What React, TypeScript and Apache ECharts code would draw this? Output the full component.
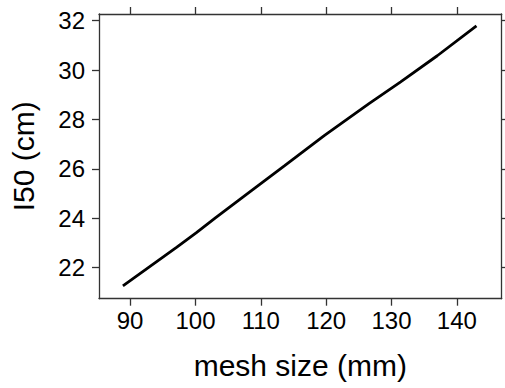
import React, { useEffect, useRef } from "react";
import * as echarts from "echarts";

const meshSize = [88.9, 97.1, 100.1, 103.1, 107.2, 113.6, 119.7, 126.5, 131.4, 137.0, 143.0];
const l50 = [21.26, 22.82, 23.41, 24.03, 24.85, 26.12, 27.35, 28.63, 29.52, 30.58, 31.79];
const xTicks = [90, 100, 110, 120, 130, 140];
const yTicks = [22, 24, 26, 28, 30, 32];
const xTitle = "mesh size (mm)";
const yTitle = "I50 (cm)";

const FONT = "'Liberation Sans', Arial, sans-serif";
const AX = "#333";

export default function App() {
  const ref = useRef<HTMLDivElement>(null);
  useEffect(() => {
    const chart = echarts.init(ref.current!, null, { renderer: "svg" });
    const xMin = 85.24, xMax = 146.86, yMin = 20.745, yMax = 32.27;
    const baseX = {
      type: "value",
      min: xMin,
      max: xMax,
      splitLine: { show: false },
      axisLine: { show: true, onZero: false, lineStyle: { color: AX, width: 1.3 } },
      axisTick: { show: true, inside: false, length: 7, customValues: xTicks, lineStyle: { color: AX, width: 1.3 } },
    };
    const baseY = {
      type: "value",
      min: yMin,
      max: yMax,
      splitLine: { show: false },
      axisLine: { show: true, onZero: false, lineStyle: { color: AX, width: 1.3 } },
      axisTick: { show: true, inside: false, length: 7, customValues: yTicks, lineStyle: { color: AX, width: 1.3 } },
    };
    chart.setOption({
      animation: false,
      backgroundColor: "#fff",
      grid: { left: 97.5, right: 3.3, top: 14, bottom: 89.3, containLabel: false },
      xAxis: [
        {
          ...baseX,
          position: "bottom",
          name: xTitle,
          nameLocation: "middle",
          nameGap: 52,
          nameTextStyle: { fontFamily: FONT, fontSize: 30, color: "#000" },
          axisLabel: { show: true, customValues: xTicks, margin: 10, fontFamily: FONT, fontSize: 24, color: "#000" },
        },
        { ...baseX, position: "top", axisLabel: { show: false } },
      ],
      yAxis: [
        {
          ...baseY,
          position: "left",
          name: yTitle,
          nameLocation: "middle",
          nameGap: 61,
          nameRotate: 90,
          nameTextStyle: { fontFamily: FONT, fontSize: 30, color: "#000" },
          axisLabel: { show: true, customValues: yTicks, margin: 14, fontFamily: FONT, fontSize: 24, color: "#000" },
        },
        { ...baseY, position: "right", axisLabel: { show: false } },
      ],
      series: [
        {
          type: "line",
          data: meshSize.map((x, i) => [x, l50[i]]),
          showSymbol: false,
          symbol: "none",
          lineStyle: { color: "#000", width: 2.8 },
          smooth: false,
        },
      ],
    });
    return () => chart.dispose();
  }, []);
  return (
    <div
      ref={ref}
      style={{ position: "fixed", left: 0, top: 0, width: 505, height: 388, background: "#fff" }}
    />
  );
}
